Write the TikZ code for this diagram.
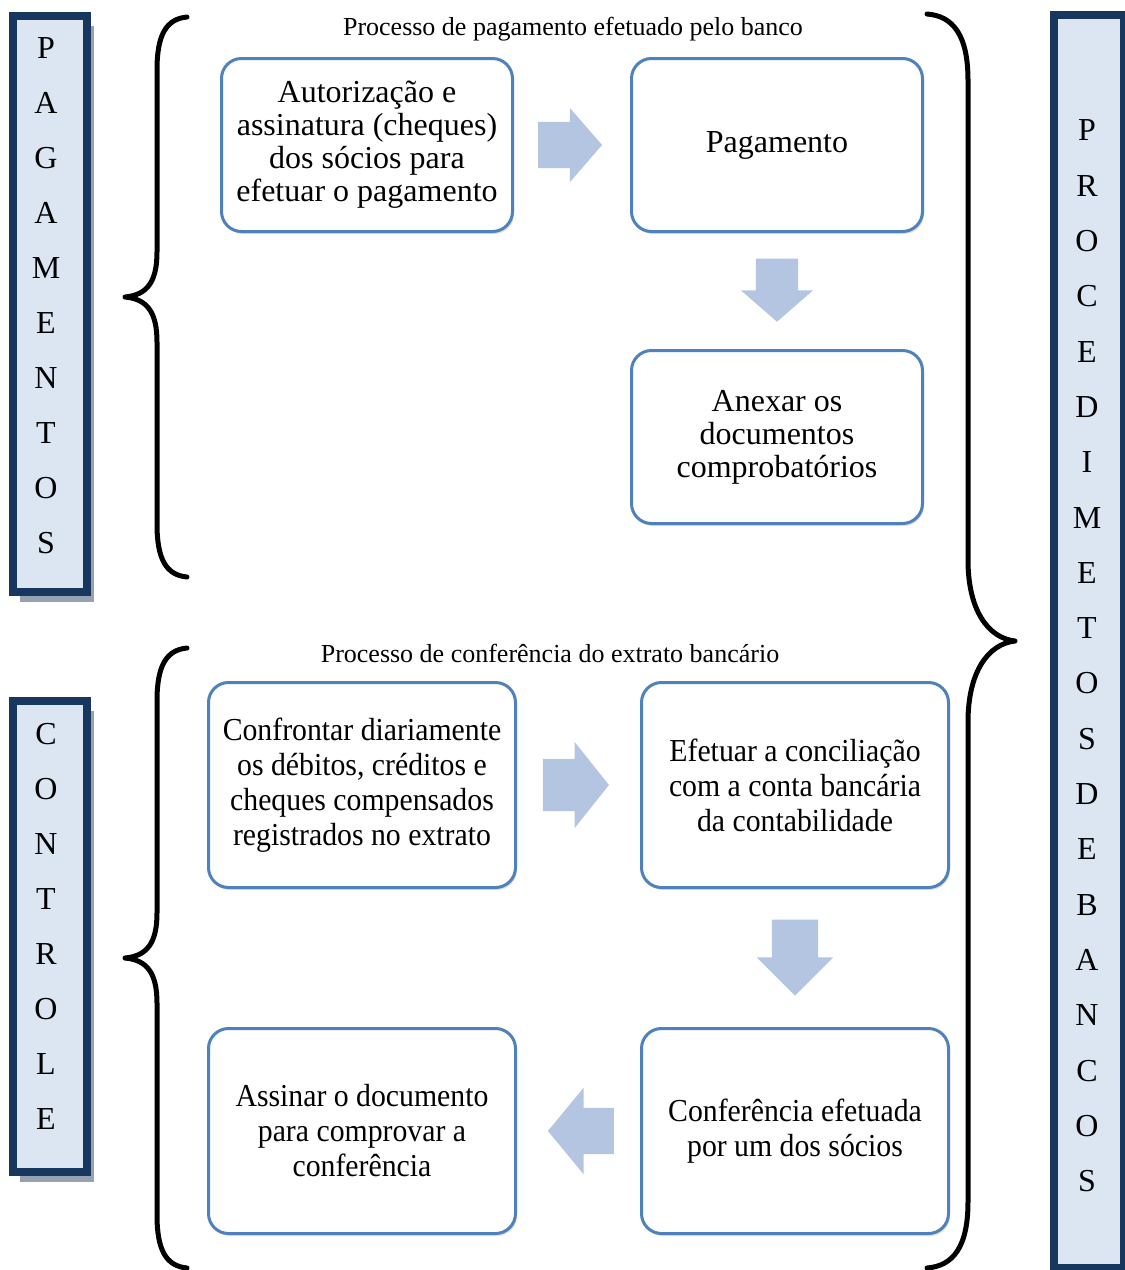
\documentclass[tikz,border=0pt]{standalone}
\usepackage{fontspec}
\setmainfont{Liberation Serif}
\usepackage{tikz}
\usetikzlibrary{shapes.arrows, shadows, calc, positioning}
\definecolor{BoxBlue}{RGB}{79,129,189}
\definecolor{ArrowBlue}{RGB}{180,197,226}
\definecolor{SideNavy}{RGB}{23,55,94}
\definecolor{SideFill}{RGB}{220,230,242}
\definecolor{SideShadow}{RGB}{150,161,178}

\begin{document}
\begin{tikzpicture}[x=1pt, y=-1pt,
  box/.style={draw=BoxBlue, line width=3pt, fill=white, rounded corners=20pt,
              align=center, inner sep=0pt,
              drop shadow={shadow xshift=1.5pt, shadow yshift=-2.5pt, opacity=0.25}},
  upbox/.style={box, minimum width=291pt, minimum height=173pt,
                font=\fontsize{32}{33}\selectfont},
  lowbox/.style={box, minimum width=307pt, minimum height=205pt,
                 font=\fontsize{32}{35}\selectfont\addfontfeature{FakeStretch=0.93}},
  side/.style={draw=SideNavy, line width=8pt, fill=SideFill, minimum width=74pt, inner sep=0pt,
               drop shadow={shadow xshift=7pt, shadow yshift=-10pt, fill=SideShadow, opacity=1}},
  letters/.style={align=center, inner sep=0pt, font=\fontsize{32}{55}\selectfont},
  title/.style={inner sep=0pt, font=\fontsize{26}{30}\selectfont},
  blk/.style={single arrow, fill=ArrowBlue, draw=none, inner xsep=0pt,
              single arrow tip angle=98},
  brace/.style={line width=5pt, line cap=round, line join=round},
]
\useasboundingbox (0,0) rectangle (1125,1270);

\node[side, minimum height=576pt] (pagbox) at (50,304) {};
\node[letters] (pagtxt) at (46,296) {P\\A\\G\\A\\M\\E\\N\\T\\O\\S};
\node[side, minimum height=471pt] (ctrlbox) at (50,936.5) {};
\node[letters] (ctrltxt) at (46,926) {C\\O\\N\\T\\R\\O\\L\\E};
\node[side, minimum width=70pt, minimum height=1253pt] (procbox) at (1089,641.5) {};
\node[letters, font=\fontsize{32}{55.3}\selectfont] (proctxt) at (1087,656)
  {P\\R\\O\\C\\E\\D\\I\\M\\E\\T\\O\\S\\D\\E\\B\\A\\N\\C\\O\\S};

\node[title] (paytitle) at (573,29) {Processo de pagamento efetuado pelo banco};
\node[title] (conftitle) at (550,653) {Processo de conferência do extrato bancário};

\node[upbox] (autor) at (367,145) {Autorização e\\assinatura (cheques)\\dos sócios para\\efetuar o pagamento};
\node[upbox, right=116pt of autor] (pagto) {Pagamento};
\node[upbox, below=116pt of pagto] (anexo) {Anexar os\\documentos\\comprobatórios};

\node[lowbox] (confr) at (362,785) {Confrontar diariamente\\os débitos, créditos e\\cheques compensados\\registrados no extrato};
\node[lowbox, right=123pt of confr] (concil) {Efetuar a conciliação\\com a conta bancária\\da contabilidade};
\node[lowbox, below=138pt of concil] (confs) {Conferência efetuada\\por um dos sócios};
\node[lowbox, left=123pt of confs] (assin) {Assinar o documento\\para comprovar a\\conferência};

\node[blk, minimum height=64pt, inner ysep=23pt, single arrow head extend=14pt]
  (ar1) at ($(autor.east)!0.5!(pagto.west)+(-12,0)$) {};
\node[blk, rotate=-90, minimum height=63pt, inner ysep=21pt, single arrow head extend=15pt]
  (ar2) at ($(pagto.south)!0.5!(anexo.north)+(0,-10)$) {};
\node[blk, minimum height=66pt, inner ysep=26pt, single arrow head extend=17pt, single arrow tip angle=103]
  (ar3) at ($(confr.east)!0.5!(concil.west)+(-13,0)$) {};
\node[blk, rotate=-90, minimum height=76pt, inner ysep=23pt, single arrow head extend=15pt, single arrow tip angle=90]
  (ar4) at ($(concil.south)!0.5!(confs.north)+(0,-12)$) {};
\node[blk, rotate=180, minimum height=66pt, inner ysep=23pt, single arrow head extend=20pt, single arrow tip angle=101]
  (ar5) at ($(confs.west)!0.5!(assin.east)+(12,0)$) {};

\draw[brace] (187,17) .. controls (166,19) and (157,35) .. (157,70) -- (157,252)
  .. controls (157,282) and (147,295) .. (125,297) .. controls (147,299) and (157,312) .. (157,342)
  -- (157,524) .. controls (157,559) and (166,575) .. (187,577);
\draw[brace] (187,648) .. controls (166,650) and (157,666) .. (157,701) -- (157,913)
  .. controls (157,943) and (147,956) .. (125,958) .. controls (147,960) and (157,973) .. (157,1003)
  -- (157,1215) .. controls (157,1250) and (166,1266) .. (187,1268);
\draw[brace] (927,14) .. controls (953,16) and (968,35) .. (968,80) -- (968,560)
  .. controls (968,610) and (988,638) .. (1015,641) .. controls (988,644) and (968,672) .. (968,722)
  -- (968,1202) .. controls (968,1247) and (953,1266) .. (927,1268);
\end{tikzpicture}
\end{document}
